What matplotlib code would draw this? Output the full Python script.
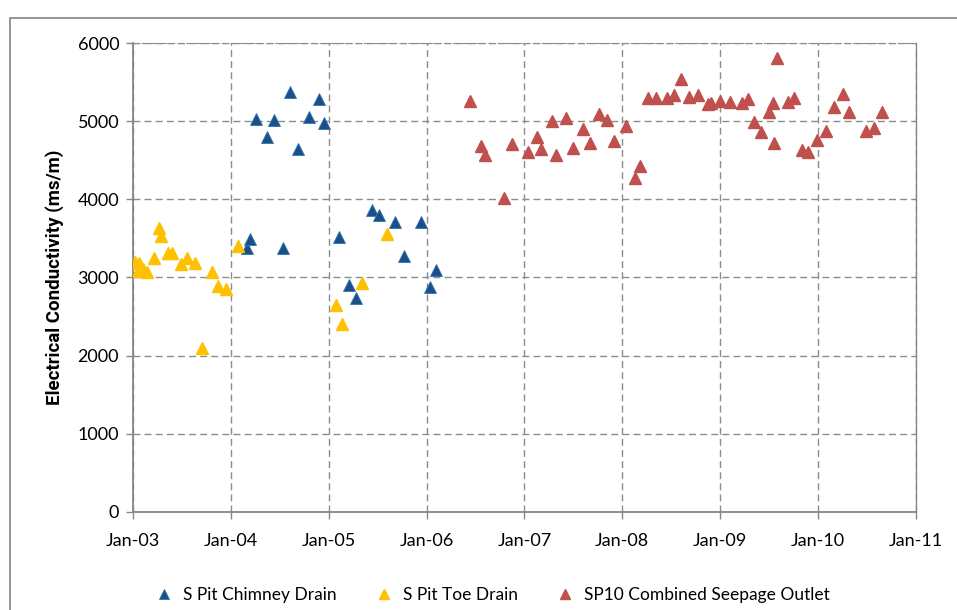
import matplotlib.pyplot as plt
from matplotlib.patches import Rectangle

# decimal years
chimney_t = [2004.16, 2004.20, 2004.26, 2004.37, 2004.44, 2004.53, 2004.60, 2004.69,
             2004.80, 2004.90, 2004.95, 2005.11, 2005.21, 2005.28, 2005.44, 2005.51,
             2005.68, 2005.77, 2005.94, 2006.04, 2006.10]
chimney_ec = [3381, 3492, 5027, 4793, 5015, 3373, 5377, 4644,
              5049, 5279, 4980, 3522, 2904, 2734, 3863, 3799,
              3706, 3279, 3714, 2882, 3096]

toe_t = [2003.02, 2003.065, 2003.05, 2003.10, 2003.14, 2003.21, 2003.27, 2003.29,
         2003.36, 2003.40, 2003.49, 2003.55, 2003.63, 2003.70, 2003.81, 2003.87,
         2003.95, 2004.07, 2005.07, 2005.14, 2005.34, 2005.60]
toe_ec = [3202, 3181, 3087, 3105, 3075, 3253, 3629, 3535,
          3309, 3317, 3172, 3245, 3189, 2094, 3075, 2896,
          2853, 3403, 2648, 2405, 2934, 3556]

sp10_t = [2006.44, 2006.56, 2006.60, 2006.79, 2006.87, 2007.04, 2007.13, 2007.17,
          2007.28, 2007.32, 2007.42, 2007.50, 2007.60, 2007.67, 2007.76, 2007.84,
          2007.92, 2008.04, 2008.13, 2008.18, 2008.26, 2008.34, 2008.46, 2008.53,
          2008.60, 2008.68, 2008.77, 2008.88, 2008.91, 2009.00, 2009.10, 2009.22,
          2009.28, 2009.35, 2009.42, 2009.50, 2009.54, 2009.55, 2009.58, 2009.69,
          2009.75, 2009.84, 2009.90, 2009.99, 2010.08, 2010.16, 2010.26, 2010.32,
          2010.49, 2010.57, 2010.65]
sp10_ec = [5258, 4686, 4567, 4021, 4708, 4601, 4793, 4644,
           5006, 4567, 5036, 4653, 4900, 4717, 5088, 5015,
           4750, 4942, 4269, 4426, 5300, 5300, 5300, 5334,
           5539, 5313, 5334, 5219, 5236, 5262, 5249, 5236,
           5279, 4993, 4865, 5121, 5228, 4724, 5812, 5249,
           5292, 4631, 4601, 4759, 4874, 5177, 5347, 5113,
           4874, 4917, 5113]

year_ticks = list(range(2003, 2012))
year_labels = ['Jan-03', 'Jan-04', 'Jan-05', 'Jan-06', 'Jan-07',
               'Jan-08', 'Jan-09', 'Jan-10', 'Jan-11']

plt.rcParams['font.family'] = ['Lato', 'DejaVu Sans']

fig = plt.figure(figsize=(9.57, 6.1), dpi=100)
ax = fig.add_axes([0.139, 0.161, 0.818, 0.7685])

# outer chart frame (open on right and bottom)
fig.add_artist(Rectangle((10 / 957, -0.1), 1.2, 1 - 18 / 610 + 0.1,
                         transform=fig.transFigure, fill=False,
                         edgecolor='#8c8c8c', linewidth=1.3))

ms = 8.5
ax.plot(chimney_t, chimney_ec, '^', ms=ms, color='#1c4f86', mec='#2e75b6',
        mew=0.6, linestyle='none', label='S Pit Chimney Drain', zorder=3)
ax.plot(toe_t, toe_ec, '^', ms=ms, color='#ffc000', mec='#ffc000',
        linestyle='none', label='S Pit Toe Drain', zorder=3)
ax.plot(sp10_t, sp10_ec, '^', ms=ms, color='#c0504d', mec='#c0504d',
        linestyle='none', label='SP10 Combined Seepage Outlet', zorder=3)

ax.set_xlim(2003, 2011)
ax.set_ylim(0, 6000)
ax.set_xticks(year_ticks)
ax.set_xticklabels(year_labels)
ax.set_yticks(range(0, 7000, 1000))

ax.grid(True, color='#8c8c8c', linestyle=(0, (5, 3)), linewidth=1)
ax.set_axisbelow(True)
for side in ['left', 'bottom', 'right']:
    ax.spines[side].set_color('#868686')
    ax.spines[side].set_linewidth(1.3)
ax.spines['right'].set_linewidth(1)
ax.spines['top'].set_color('#8c8c8c')
ax.spines['top'].set_linestyle((0, (5, 3)))
ax.tick_params(axis='both', colors='#868686', labelcolor='black',
               labelsize=13, length=5, width=1)
ax.tick_params(axis='x', pad=10)
ax.tick_params(axis='y', pad=5)

ax.set_ylabel('Electrical Conductivity (ms/m)', fontsize=13.5, fontweight='bold',
              family=['Roboto', 'DejaVu Sans'], labelpad=10)

fig.legend(loc='center', bbox_to_anchor=(0.51, 0.025), ncol=3, frameon=False,
           fontsize=12.5, handletextpad=0.1, columnspacing=1.7, markerscale=0.8)

fig.savefig('out.png', dpi=100)
